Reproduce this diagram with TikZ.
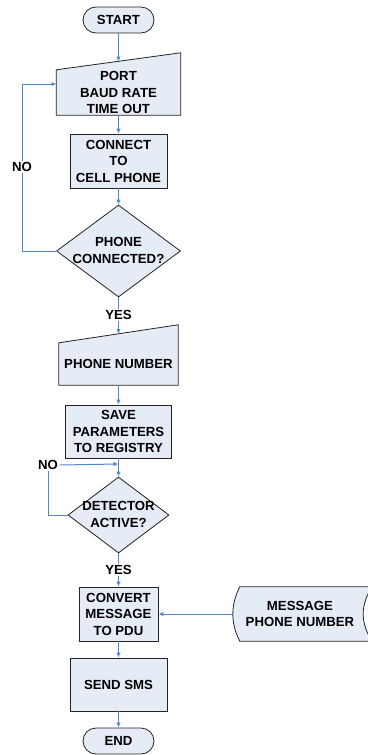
\documentclass[tikz,border=0pt]{standalone}
\usepackage{fontspec}
\setmainfont{Liberation Sans}
\usetikzlibrary{shapes.geometric,arrows.meta,backgrounds}
\definecolor{boxfill}{RGB}{230,236,246}
\definecolor{flowblue}{RGB}{85,135,205}
\definecolor{boxline}{RGB}{35,35,35}
\tikzset{
  txt/.style={font=\fontsize{13.2}{16.5}\selectfont\bfseries, align=center, inner sep=0pt},
  shapeline/.style={draw=boxline, fill=boxfill, line width=0.8pt},
  termbox/.style={txt, shapeline, rectangle, rounded corners=13pt},
  procbox/.style={txt, shapeline, rectangle},
  decbox/.style={shapeline, diamond, inner sep=0pt},
  flow/.style={draw=flowblue, line width=1pt, -{Latex[length=5pt,width=4.5pt]}},
  flowline/.style={draw=flowblue, line width=1pt},
  lbl/.style={txt, fill=white, inner sep=1.5pt}
}
\begin{document}
\begin{tikzpicture}[x=1pt,y=-1pt]
\useasboundingbox (0,0) rectangle (367,755);

% nodes
\node[termbox, minimum width=71pt, minimum height=26pt] (start) at (118.5,20) {START};
\node[txt, minimum width=124pt, minimum height=45pt] (port) at (118.5,92.5) {PORT\\BAUD RATE\\TIME OUT};
\node[procbox, minimum width=97pt, minimum height=54pt] (conn) at (118.5,161) {CONNECT\\TO\\CELL PHONE};
\node[decbox, minimum width=124pt, minimum height=92pt] (d1) at (118.5,251) {};
\node[txt] (d1t) at (118.5,250.5) {PHONE\\CONNECTED?};
\node[txt, minimum width=119pt, minimum height=42pt] (pn) at (118.5,364) {PHONE NUMBER};
\node[procbox, minimum width=106pt, minimum height=53pt] (save) at (118.5,431.5) {SAVE\\PARAMETERS\\TO REGISTRY};
\node[decbox, minimum width=101pt, minimum height=76pt] (d2) at (118.5,515) {};
\node[txt] (d2t) at (118.5,514.5) {DETECTOR\\ACTIVE?};
\node[procbox, minimum width=79pt, minimum height=54pt] (conv) at (118.5,614) {CONVERT\\MESSAGE\\TO PDU};
\node[txt, minimum width=134pt, minimum height=54pt] (store) at (300,614) {MESSAGE\\PHONE NUMBER};
\node[procbox, minimum width=97pt, minimum height=53pt] (sms) at (118.5,684.5) {SEND SMS};
\node[termbox, minimum width=71pt, minimum height=26pt] (end) at (118.5,741) {END};

% shapes drawn behind their text
\begin{scope}[on background layer]
\draw[shapeline] (port.south west) -- (port.south east) -- ([yshift=17pt]port.north east) -- (port.north west) -- cycle;
\draw[shapeline] (pn.south west) -- (pn.south east) -- ([yshift=18pt]pn.north east) -- (pn.north west) -- cycle;
\draw[shapeline] ([xshift=7pt]store.north west) -- ([xshift=5pt]store.north east)
  .. controls ([xshift=-7pt,yshift=-18pt]store.north east) and ([xshift=-7pt,yshift=18pt]store.south east) .. ([xshift=5pt]store.south east)
  -- ([xshift=7pt]store.south west)
  .. controls ([xshift=-2.3pt,yshift=18pt]store.south west) and ([xshift=-2.3pt,yshift=-18pt]store.north west) .. ([xshift=7pt]store.north west) -- cycle;
\end{scope}

% labels
\node[lbl] (no1) at (22,167) {NO};
\node[lbl] (yes1) at (118.5,315) {YES};
\node[lbl] (no2) at (48,465) {NO};
\node[lbl] (yes2) at (118.5,570) {YES};

% connector end points
\coordinate (portin) at (118.5,61.6);
\coordinate (portloop) at (56.5,84);
\coordinate (pnin) at (118.5,334);
\coordinate (j2) at (118.5,464);

% connectors
\draw[flow] (start.south) -- (portin);
\draw[flow] (port.south) -- (conn.north);
\draw[flow] (conn.south) -- (d1.north);
\draw[flowline] (d1.south) -- (yes1.north);
\draw[flow] (yes1.south) -- (pnin);
\draw[flowline] (d1.west) -| (no1.south);
\draw[flow] (no1.north) |- (portloop);
\draw[flow] (pn.south) -- (save.north);
\draw[flow] (save.south) -- (d2.north);
\draw[flowline] (d2.west) -| (no2.south);
\draw[flow] (no2.east) -- (j2);
\draw[flowline] (d2.south) -- (yes2.north);
\draw[flow] (yes2.south) -- (conv.north);
\draw[flow] (store.west) -- (conv.east);
\draw[flow] (conv.south) -- (sms.north);
\draw[flow] (sms.south) -- (end.north);
\end{tikzpicture}
\end{document}
